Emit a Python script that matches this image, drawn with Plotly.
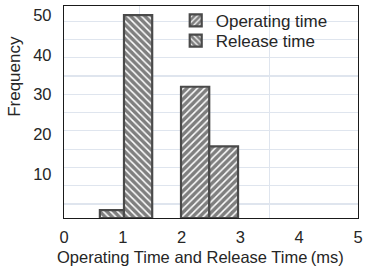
import plotly.graph_objects as go

# ---- data ----
series_names = ["Operating time", "Release time"]
operating_bin_edges = [1.99, 2.47, 2.96]
operating_counts = [33, 18]
release_bin_edges = [0.61, 1.02, 1.50]
release_counts = [2, 51]
x_tick_vals = [0, 1, 2, 3, 4, 5]
y_tick_vals = [10, 20, 30, 40, 50]
x_title = "Operating Time and Release Time\u2009(ms)"
y_title = "Frequency"


def centers(edges):
    return [(a + b) / 2 for a, b in zip(edges[:-1], edges[1:])]


def widths(edges):
    return [b - a for a, b in zip(edges[:-1], edges[1:])]


FONT = "Liberation Sans, Arial, sans-serif"
TXT = "#262626"
EDGE = "#4a4a4a"

fig = go.Figure()
fig.add_trace(go.Bar(
    name=series_names[0], legend="legend",
    x=centers(operating_bin_edges), y=operating_counts, width=widths(operating_bin_edges),
    marker=dict(color="white", line=dict(color=EDGE, width=2.2),
                pattern=dict(shape="/", fgcolor="black", bgcolor="white", size=5, solidity=0.7)),
))
fig.add_trace(go.Bar(
    name=series_names[1], legend="legend2",
    x=centers(release_bin_edges), y=release_counts, width=widths(release_bin_edges),
    marker=dict(color="white", line=dict(color=EDGE, width=2.2),
                pattern=dict(shape="\\", fgcolor="black", bgcolor="white", size=5, solidity=0.7)),
))

leg_common = dict(xanchor="left", yanchor="middle", bgcolor="rgba(0,0,0,0)",
                  font=dict(size=17, color=TXT), itemclick=False, borderwidth=0)

fig.update_layout(
    width=366, height=273,
    margin=dict(l=64, r=8, t=6, b=55, autoexpand=False),
    paper_bgcolor="white", plot_bgcolor="white",
    font=dict(family=FONT, size=16.5, color=TXT),
    barmode="overlay",
    showlegend=True,
    hovermode=False,
    legend=dict(x=0.38, y=0.93, **leg_common),
    legend2=dict(x=0.38, y=0.835, **leg_common),
    xaxis=dict(range=[0, 5], tickvals=x_tick_vals, showgrid=False, zeroline=False,
               showline=True, linecolor="#1a1a1a", linewidth=1.2, mirror=True,
               ticks="", ticklabelstandoff=4, automargin=False, ticklabeloverflow="allow",
               minor=dict(tick0=1.29, dtick=2.21, showgrid=True, gridcolor="#dfe5ee", gridwidth=1.2)),
    yaxis=dict(range=[0, 53.3], tickvals=y_tick_vals, showgrid=False, zeroline=False,
               showline=True, linecolor="#1a1a1a", linewidth=1.2, mirror=True,
               ticks="", ticklabelstandoff=8, ticklabelshift=-4, automargin=False,
               ticklabeloverflow="allow",
               minor=dict(tick0=3.5, dtick=4.6, showgrid=True, gridcolor="#dfe5ee", gridwidth=1.2)),
    annotations=[
        dict(text=x_title, xref="paper", yref="paper", x=0.463, y=-0.184,
             xanchor="center", yanchor="middle", showarrow=False,
             font=dict(size=16.5, color=TXT)),
        dict(text=y_title, xref="paper", yref="paper", x=-0.167, y=0.67,
             xanchor="center", yanchor="middle", showarrow=False, textangle=-90,
             font=dict(size=17, color=TXT)),
    ],
)

fig.write_html("out.html", config={"displayModeBar": False, "staticPlot": True},
               post_script="document.body.style.margin='0';")
